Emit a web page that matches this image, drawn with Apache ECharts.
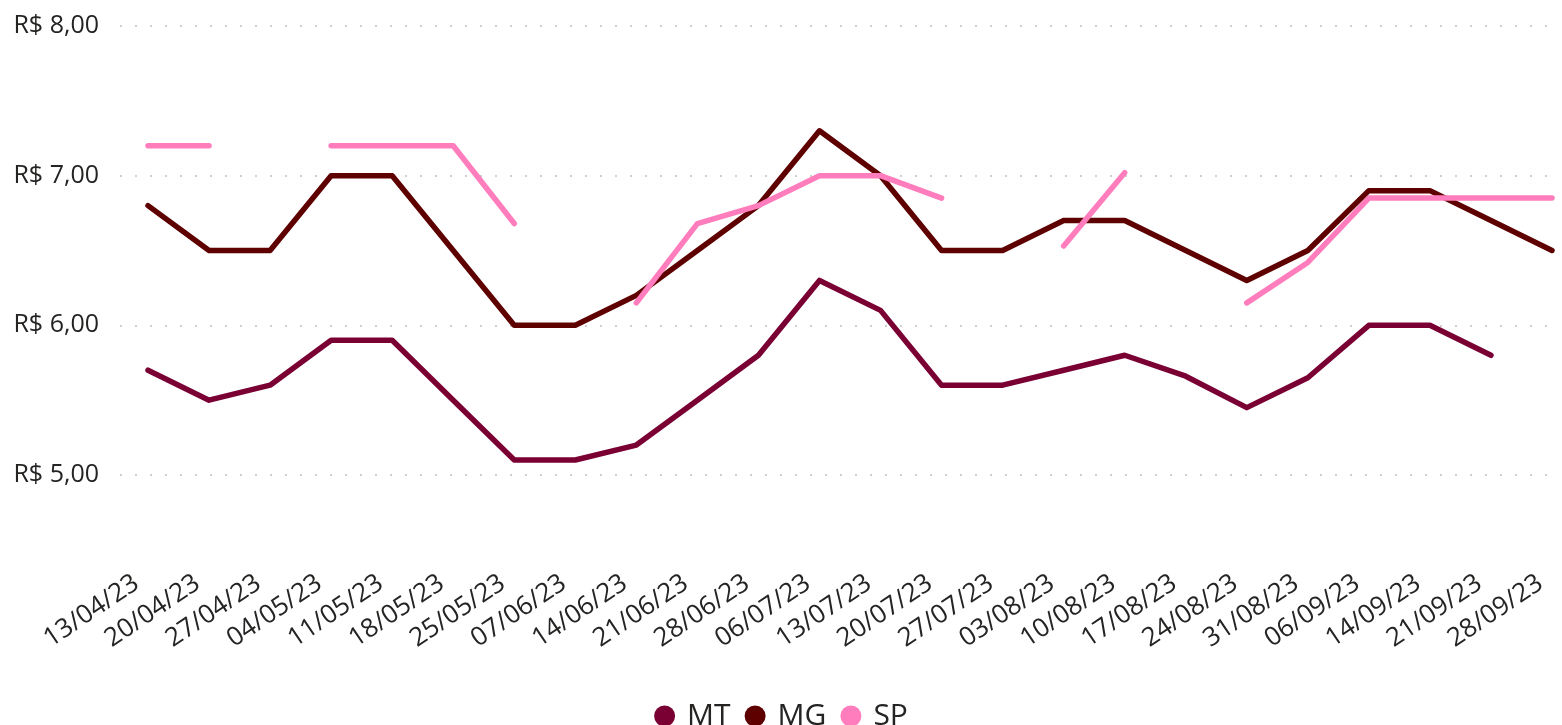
<!doctype html>
<html>
<head>
<meta charset="utf-8">
<title>Preços</title>
<script src="https://cdn.jsdelivr.net/npm/echarts@6/dist/echarts.min.js"></script>
<style>
  html, body { margin: 0; padding: 0; background: #fff; }
  #chart { width: 1562px; height: 725px; }
</style>
</head>
<body>
<div id="chart"></div>
<script>
var datas = ['13/04/23','20/04/23','27/04/23','04/05/23','11/05/23','18/05/23','25/05/23','07/06/23',
  '14/06/23','21/06/23','28/06/23','06/07/23','13/07/23','20/07/23','27/07/23','03/08/23',
  '10/08/23','17/08/23','24/08/23','31/08/23','06/09/23','14/09/23','21/09/23','28/09/23'];

var mt = [5.70,5.50,5.60,5.90,5.90,5.50,5.10,5.10,5.20,5.50,5.80,6.30,6.10,5.60,5.60,5.70,
  5.80,5.66,5.45,5.65,6.00,6.00,5.80,null];
var mg = [6.80,6.50,6.50,7.00,7.00,6.50,6.00,6.00,6.20,6.50,6.80,7.30,7.00,6.50,6.50,6.70,
  6.70,6.50,6.30,6.50,6.90,6.90,6.70,6.50];
var sp = [7.20,7.20,null,7.20,7.20,7.20,6.68,null,6.15,6.68,6.80,7.00,7.00,6.85,null,6.53,
  7.02,null,6.15,6.42,6.85,6.85,6.85,6.85];

var cores = { MT: '#7a0034', MG: '#5e0000', SP: '#ff7dbd' };
var fonte = '"Open Sans", "Noto Sans", sans-serif';

function serie(nome, dados) {
  return {
    name: nome,
    type: 'line',
    xAxisIndex: 1,
    yAxisIndex: 1,
    data: dados,
    symbol: 'none',
    connectNulls: false,
    color: cores[nome],
    lineStyle: { width: 5.5, color: cores[nome], cap: 'round', join: 'round' }
  };
}

var chart = echarts.init(document.getElementById('chart'));
chart.setOption({
  animation: false,
  legend: {
    data: ['MT', 'MG', 'SP'],
    left: 'center',
    top: 696,
    icon: 'circle',
    itemWidth: 21,
    itemHeight: 21,
    itemGap: 14,
    textStyle: { fontFamily: fonte, fontSize: 30, color: '#252423', padding: [0, 0, 0, 7] }
  },
  grid: [
    { left: 120, right: 2, top: 26, height: 449 },
    { left: 148, right: 10, top: 26, height: 449 }
  ],
  xAxis: [
    { type: 'value', gridIndex: 0, show: false, min: 0, max: 1 },
    {
      type: 'category', gridIndex: 1, data: datas, boundaryGap: false,
      axisLine: { show: false }, axisTick: { show: false },
      axisLabel: {
        interval: 0, rotate: 34, margin: 98, padding: [0, 14, 0, 0],
        fontFamily: fonte, fontSize: 26, color: '#252423'
      }
    }
  ],
  yAxis: [
    {
      type: 'value', gridIndex: 0, min: 5, max: 8, interval: 1,
      axisLine: { show: false }, axisTick: { show: false },
      axisLabel: {
        margin: 21, fontFamily: fonte, fontSize: 25, color: '#252423',
        formatter: function (v) { return 'R$ ' + v.toFixed(2).replace('.', ','); }
      },
      splitLine: { lineStyle: { color: '#cfcfcf', width: 2, type: [2, 13] } }
    },
    { type: 'value', gridIndex: 1, min: 5, max: 8, show: false, splitLine: { show: false } }
  ],
  series: [serie('MT', mt), serie('MG', mg), serie('SP', sp)]
});
</script>
</body>
</html>
